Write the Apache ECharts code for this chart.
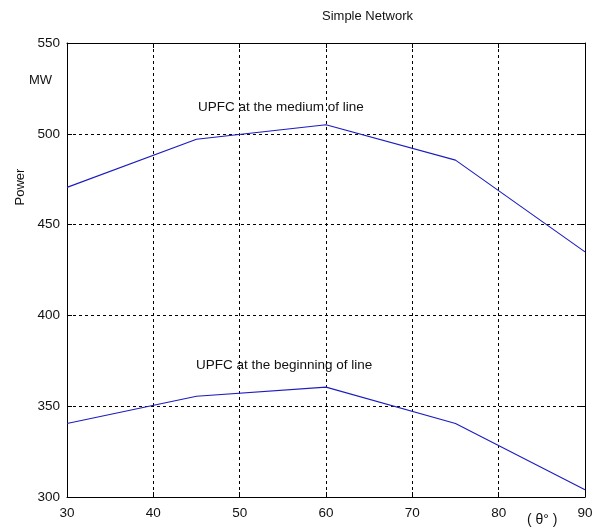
<!DOCTYPE html>
<html>
<head>
<meta charset="utf-8">
<script src="https://cdn.jsdelivr.net/npm/echarts@6/dist/echarts.min.js"></script>
<style>
  html, body { margin: 0; padding: 0; background: #fff; }
  #chart { width: 602px; height: 531px; }
</style>
</head>
<body>
<div id="chart"></div>
<script>
// Transmitted power vs. angle for two UPFC placements
const thetaDeg = [30, 45, 60, 75, 90];
const powerMedium = [470.5, 497, 505, 485.5, 435];
const powerBeginning = [340.5, 355.5, 360.5, 340.5, 304];
const xTicks = { min: 30, max: 90, step: 10 };
const yTicks = { min: 300, max: 550, step: 50 };

const FONT = 'Liberation Sans, Arial, sans-serif';
const LINE_COLOR = '#1c1cc0';

const pairs = (ys) => thetaDeg.map((t, i) => [t, ys[i]]);

const chart = echarts.init(document.getElementById('chart'), null, { renderer: 'canvas' });

const dashed = { show: true, lineStyle: { color: '#000', width: 1, type: [3, 3] } };
const frame = { show: true, lineStyle: { color: '#000', width: 1 } };
const inTick = { show: true, inside: true, length: 5, lineStyle: { color: '#000', width: 1 } };

chart.setOption({
  animation: false,
  backgroundColor: '#fff',
  grid: { left: 67, right: 17, top: 43, bottom: 34, containLabel: false },
  xAxis: [
    {
      type: 'value', min: xTicks.min, max: xTicks.max, interval: xTicks.step,
      axisLine: frame, axisTick: inTick, splitLine: dashed,
      axisLabel: { color: '#111', fontFamily: FONT, fontSize: 13.5, margin: 9 }
    },
    {
      type: 'value', position: 'top', min: xTicks.min, max: xTicks.max, interval: xTicks.step,
      axisLine: frame, axisTick: inTick, splitLine: { show: false }, axisLabel: { show: false }
    }
  ],
  yAxis: [
    {
      type: 'value', min: yTicks.min, max: yTicks.max, interval: yTicks.step,
      axisLine: frame, axisTick: inTick, splitLine: dashed,
      axisLabel: { color: '#111', fontFamily: FONT, fontSize: 13.5, margin: 7 }
    },
    {
      type: 'value', position: 'right', min: yTicks.min, max: yTicks.max, interval: yTicks.step,
      axisLine: frame, axisTick: inTick, splitLine: { show: false }, axisLabel: { show: false }
    }
  ],
  series: [
    {
      name: 'UPFC at the medium of line', type: 'line', data: pairs(powerMedium),
      showSymbol: false, lineStyle: { color: LINE_COLOR, width: 1.1 }, z: 5
    },
    {
      name: 'UPFC at the beginning of line', type: 'line', data: pairs(powerBeginning),
      showSymbol: false, lineStyle: { color: LINE_COLOR, width: 1.1 }, z: 5
    }
  ],
  graphic: [
    { type: 'text', left: 322, top: 10, style: { text: 'Simple Network', font: '13px ' + FONT, fill: '#111' } },
    { type: 'text', left: 29, top: 74, style: { text: 'MW', font: '13px ' + FONT, fill: '#111' } },
    { type: 'text', x: 20, y: 187, rotation: Math.PI / 2,
      style: { text: 'Power', font: '13px ' + FONT, fill: '#111', align: 'center', verticalAlign: 'middle' } },
    { type: 'text', left: 198, top: 100, style: { text: 'UPFC at the medium of line', font: '13.5px ' + FONT, fill: '#111' } },
    { type: 'text', left: 196, top: 358, style: { text: 'UPFC at the beginning of line', font: '13.5px ' + FONT, fill: '#111' } },
    { type: 'text', left: 527, top: 513, style: { text: '( θ° )', font: '14px ' + FONT, fill: '#111' } }
  ]
});
</script>
</body>
</html>
